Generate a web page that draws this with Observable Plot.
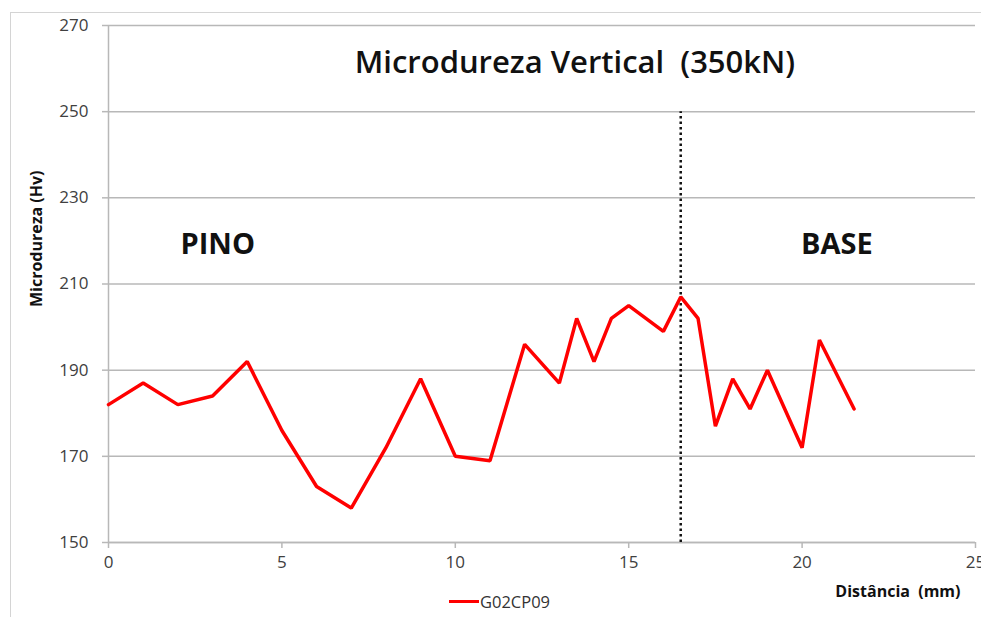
<!DOCTYPE html>
<html>
<head>
<meta charset="utf-8">
<script src="https://cdn.jsdelivr.net/npm/d3@7"></script>
<script src="https://cdn.jsdelivr.net/npm/@observablehq/plot@0.6"></script>
<style>
  html, body { margin: 0; padding: 0; background: #fff; }
  #wrap { position: relative; width: 981px; height: 617px; overflow: hidden; }
  #frame { position: absolute; left: 10px; top: 12px; width: 1000px; height: 700px;
           border: 1.5px solid #d4d4d4; box-sizing: border-box; }
  #chart { position: absolute; left: 0; top: 0; }
  #legend { position: absolute; left: 449px; top: 590px; font: 16.5px "Open Sans", sans-serif;
            color: #333; display: flex; align-items: center; }
  #legend span.sw { display: inline-block; width: 30px; height: 3px; background: #ff0000; margin-right: 1px; }
</style>
</head>
<body>
<div id="wrap">
  <div id="frame"></div>
  <div id="chart"></div>
  <div id="legend"><span class="sw"></span><span id="legendName"></span></div>
</div>
<script>
// Hardness profile of sample G02CP09 along the vertical section
const seriesName = "G02CP09";
const distance = [0, 1, 2, 3, 4, 5, 6, 7, 8, 9, 10, 11, 12, 13, 13.5, 14, 14.5, 15, 16, 16.5, 17, 17.5, 18, 18.5, 19, 20, 20.5, 21.5];
const hardness = [182, 187, 182, 184, 192, 176, 163, 158, 172, 188, 170, 169, 196, 187, 202, 192, 202, 205, 199, 207, 202, 177, 188, 181, 190, 172, 197, 181];

// Boundary between the pin and the base
const boundary = 16.5;
const boundaryTop = 250;

const xTicks = [0, 5, 10, 15, 20, 25];
const yTicks = [150, 170, 190, 210, 230, 250, 270];

const titleText = "Microdureza Vertical  (350kN)";
const xLabel = "Distância  (mm)";
const yLabel = "Microdureza (Hv)";
const regionLabels = ["PINO", "BASE"];

const points = distance.map((d, i) => ({ d, h: hardness[i] }));

const font = "'Open Sans', sans-serif";
const grey = "#b8b8b8";

const chart = Plot.plot({
  width: 981,
  height: 617,
  marginLeft: 108,
  marginRight: 6,
  marginTop: 25,
  marginBottom: 75,
  style: { fontFamily: font, fontSize: "17px", color: "#404040", background: "transparent" },
  x: { domain: [0, 25], ticks: xTicks },
  y: { domain: [150, 270], ticks: yTicks },
  marks: [
    Plot.gridY(yTicks, { stroke: grey, strokeOpacity: 1, strokeWidth: 1.5 }),
    Plot.ruleX([0], { stroke: grey, strokeWidth: 1.5 }),
    Plot.ruleY([150], { stroke: grey, strokeWidth: 1.5 }),
    Plot.axisY(yTicks, { tickSize: 6, tickPadding: 14, stroke: grey, strokeWidth: 1.5,
      fill: "#404040", fontSize: 17, label: null }),
    Plot.axisX(xTicks, { tickSize: 6, tickPadding: 7, stroke: grey, strokeWidth: 1.5,
      fill: "#404040", fontSize: 17, label: null }),
    Plot.ruleX([boundary], { y1: 150, y2: boundaryTop, stroke: "#111", strokeWidth: 2.5, strokeDasharray: "2.5,3" }),
    Plot.line(points, { x: "d", y: "h", stroke: "#ff0000", strokeWidth: 3.5, strokeLinejoin: "miter" }),
    Plot.text([titleText], { x: 13.45, y: 261.3, text: d => d, fontSize: 31, fontWeight: 600, fill: "#111" }),
    Plot.text([regionLabels[0]], { x: 3.15, y: 219.2, text: d => d, fontSize: 29, fontWeight: 700, fill: "#111" }),
    Plot.text([regionLabels[1]], { x: 21.0, y: 219.2, text: d => d, fontSize: 29, fontWeight: 700, fill: "#111" }),
    Plot.text([xLabel], { frameAnchor: "bottom-right", dx: -15, dy: 49, lineAnchor: "middle",
      text: d => d, fontSize: 16, fontWeight: 700, fill: "#111" }),
    Plot.text([yLabel], { frameAnchor: "left", dx: -72, dy: 23, rotate: -90, lineAnchor: "middle",
      text: d => d, fontSize: 16, fontWeight: 700, fill: "#111" })
  ]
});

// Larger tick labels on both axes
d3.select(chart)
  .selectAll("g[aria-label='y-axis tick label'], g[aria-label='x-axis tick label']")
  .attr("font-size", 17);

document.getElementById("chart").appendChild(chart);
document.getElementById("legendName").textContent = seriesName;
</script>
</body>
</html>
